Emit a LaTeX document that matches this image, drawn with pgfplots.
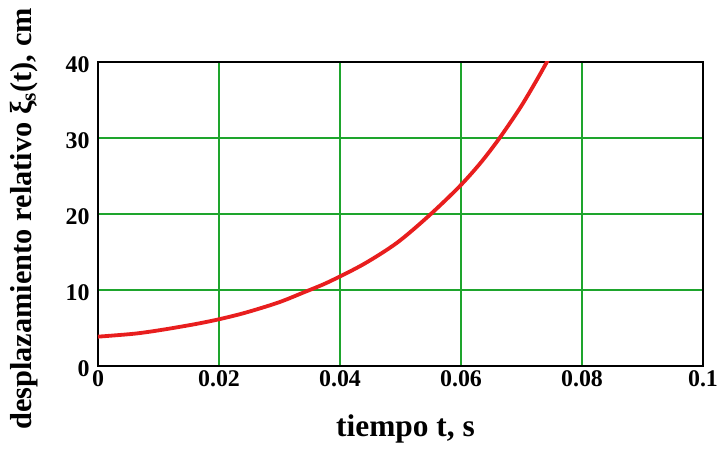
\documentclass[border=0pt]{standalone}
\usepackage{pgfplots}
\pgfplotsset{compat=1.18}
\usepackage{fontspec}
\setmainfont{Liberation Serif}
\definecolor{gridgreen}{RGB}{30,165,45}
\definecolor{curvered}{RGB}{232,30,30}
\begin{document}
\begin{tikzpicture}
\useasboundingbox (-98bp,-84bp) rectangle (624bp,366bp);
\begin{axis}[
  at={(0,0)}, anchor=south west,
  scale only axis,
  width=605bp, height=304bp,
  xmin=0, xmax=0.1, ymin=0, ymax=40,
  xtick={0,0.02,0.04,0.06,0.08,0.1},
  xticklabels={0,0.02,0.04,0.06,0.08,0.1},
  ytick={0,10,20,30,40},
  yticklabels={0,10,20,30,40},
  major tick length=0pt,
  grid=major,
  major grid style={gridgreen, line width=2.3bp},
  axis line style={black, line width=2.3bp},
  xticklabel style={font=\bfseries\fontsize{24}{28}\selectfont, yshift=-1bp},
  yticklabel style={font=\bfseries\fontsize{24}{28}\selectfont, xshift=-5bp, yshift=-3bp},
  xlabel={tiempo t, s},
  ylabel={desplazamiento relativo ξ\textsubscript{s}(t), cm},
  xlabel style={font=\bfseries\fontsize{31.5}{35}\selectfont,
    at={([xshift=5bp,yshift=-70bp]axis description cs:0.5,0)}, anchor=base},
  ylabel style={font=\bfseries\fontsize{30.5}{34}\selectfont,
    at={([xshift=-66bp,yshift=-5bp]axis description cs:0,0.5)}, anchor=base},
]
\addplot[curvered, line width=3.8bp, smooth] coordinates {
(0,3.86) (0.006,4.25) (0.0105,4.75) (0.016,5.5) (0.020,6.15) (0.0243,7.0)
(0.0298,8.35) (0.0342,9.75) (0.0381,11.05) (0.0439,13.4) (0.0494,16.2)
(0.0546,19.7) (0.0596,23.5) (0.0631,26.6) (0.0662,29.8) (0.0698,34.0)
(0.0725,37.6) (0.0744,40.3)
};
\end{axis}
\end{tikzpicture}
\end{document}
